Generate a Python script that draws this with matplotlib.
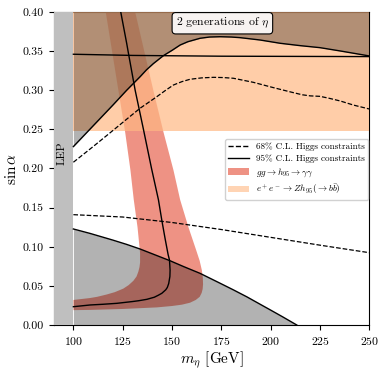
import matplotlib
matplotlib.use('Agg')
import matplotlib.pyplot as plt
import numpy as np
from matplotlib.lines import Line2D
from matplotlib.patches import Patch

plt.rcParams['font.family'] = 'serif'
plt.rcParams['font.serif'] = ['cmr10']
plt.rcParams['mathtext.fontset'] = 'cm'
plt.rcParams['axes.formatter.use_mathtext'] = True

# 95% upper boundary (excluded above)
m_up95 = [100, 110, 120, 127, 133.8, 137, 140.5, 143, 145.6, 150, 154.1, 158,
          164.2, 169, 174.4, 180, 184.5, 194.6, 204.8, 214.9, 225.0, 235.2, 250]
s_up95 = [0.228, 0.2545, 0.281, 0.300, 0.3173, 0.326, 0.334, 0.339, 0.3442,
          0.351, 0.3578, 0.362, 0.3664, 0.368, 0.3684, 0.368, 0.3672, 0.3642,
          0.360, 0.357, 0.3544, 0.3502, 0.3438]

# 68% upper curve
m_up68 = [100, 110, 120, 127, 133.8, 142.3, 146.5, 150.7, 155, 159.1, 165, 171,
          176, 181.1, 191.2, 201.4, 211.5, 216, 220, 225, 230, 235.2, 242, 250]
s_up68 = [0.208, 0.228, 0.2485, 0.263, 0.277, 0.2918, 0.2995, 0.3067, 0.311,
          0.314, 0.3158, 0.3165, 0.3162, 0.3153, 0.3101, 0.3033, 0.2969, 0.2942,
          0.2928, 0.2922, 0.2895, 0.2863, 0.281, 0.276]

# near-horizontal 95% line
m_flat95 = [100, 130, 175, 250]
s_flat95 = [0.346, 0.3445, 0.3435, 0.343]

# 68% lower curve
m_low68 = [100, 125, 150, 175, 200, 225, 250]
s_low68 = [0.141, 0.138, 0.131, 0.122, 0.112, 0.102, 0.0924]

# 95% lower boundary (excluded below)
m_low95 = [100, 108.5, 120, 127, 133.8, 141, 148.9, 156, 164.2, 174.4, 181,
           187.9, 195, 200, 206, 213.2]
s_low95 = [0.1227, 0.117, 0.1085, 0.103, 0.0971, 0.090, 0.0822, 0.0745, 0.066,
           0.0533, 0.045, 0.036, 0.026, 0.019, 0.0105, 0.0]

# 95% near-vertical contour
m_vert95 = [124, 127, 128.2, 131.3, 135.5, 139.6, 143.1, 144.8, 146.5, 148.0,
            148.7, 149.0, 148.9, 148.3, 147.6, 146.8, 144.8, 143, 141, 137.2,
            133, 130, 122, 115, 108.5, 100]
s_vert95 = [0.4, 0.36, 0.343, 0.30, 0.25, 0.20, 0.16, 0.134, 0.11, 0.09,
            0.083, 0.070, 0.062, 0.053, 0.048, 0.045, 0.0405, 0.038, 0.0355,
            0.0328, 0.031, 0.030, 0.0277, 0.0265, 0.0256, 0.0234]

# gg -> h95 -> gamma gamma band: outer (right/bottom) and inner (left/top) edges
m_gg_out = [131.3, 140.5, 145.6, 150.7, 154.1, 158.3, 162.2, 164, 165.1, 165.6,
            165.7, 165.5, 165, 164, 162, 159.1, 155, 150, 142.2, 125, 108.5, 100]
s_gg_out = [0.40, 0.30, 0.247, 0.198, 0.16, 0.125, 0.0958, 0.082, 0.070, 0.060,
            0.052, 0.046, 0.041, 0.036, 0.032, 0.0285, 0.026, 0.0243, 0.0225,
            0.0205, 0.0193, 0.019]
m_gg_in = [116.4, 122.8, 126.2, 128.9, 130.6, 132.5, 133.8, 133.8, 133.5, 132.9,
           132, 130.4, 128, 125.3, 121, 116.9, 112, 108.5, 100]
s_gg_in = [0.40, 0.30, 0.247, 0.198, 0.16, 0.125, 0.092, 0.08, 0.074, 0.068,
           0.062, 0.0565, 0.051, 0.0465, 0.042, 0.039, 0.036, 0.0345, 0.032]

# e+e- -> Z h95 (-> bb) band
m_ee = [100, 250]
s_ee_lo = 0.248
s_ee_hi = 0.40

c_gg = '#e34a33'
c_ee = '#ffb883'

fig = plt.figure(figsize=(3.86, 3.70), dpi=100)
ax = fig.add_axes([0.139, 0.1216, 0.818, 0.846])

ax.fill(m_gg_out + m_gg_in[::-1], s_gg_out + s_gg_in[::-1],
        color=c_gg, alpha=0.6, lw=0, zorder=2)
ax.fill_between(m_ee, s_ee_lo, s_ee_hi, color=c_ee, alpha=0.7, lw=0, zorder=3)
ax.fill_between(m_up95, s_up95, 0.4, color='black', alpha=0.3, lw=0, zorder=4)
ax.fill_between(m_low95, 0, s_low95, color='black', alpha=0.3, lw=0, zorder=4)
ax.axvspan(90, 100, color='#bfbfbf', lw=0, zorder=4.5)

ax.plot(m_up95, s_up95, 'k-', lw=1, zorder=5)
ax.plot(m_flat95, s_flat95, 'k-', lw=1, zorder=5)
ax.plot(m_low95, s_low95, 'k-', lw=1, zorder=5)
ax.plot(m_vert95, s_vert95, 'k-', lw=1, zorder=5)
ax.plot(m_up68, s_up68, 'k--', lw=0.9, zorder=5)
ax.plot(m_low68, s_low68, 'k--', lw=0.9, zorder=5)

ax.text(94.3, 0.22, 'LEP', rotation=90, ha='center', va='center', fontsize=8.5, zorder=6)
ax.text(175.5, 0.3856, r'2 generations of $\eta$', ha='center', va='center', fontsize=8.5,
        zorder=7, bbox=dict(boxstyle='round,pad=0.3', fc=(1, 1, 1, 0.9), ec='black', lw=0.8))

handles = [Line2D([], [], color='k', ls='--', lw=1),
           Line2D([], [], color='k', ls='-', lw=1),
           Patch(color=c_gg, alpha=0.6, lw=0),
           Patch(color=c_ee, alpha=0.6, lw=0)]
labels = ['68% C.L. Higgs constraints', '95% C.L. Higgs constraints',
          r'$gg \to h_{95} \to \gamma\gamma$', r'$e^+e^- \to Zh_{95}(\to b\bar{b})$']
leg = ax.legend(handles, labels, loc='upper right', bbox_to_anchor=(0.997, 0.594),
                borderaxespad=0, fontsize=6.6, handlelength=2.2, framealpha=0.9,
                labelspacing=0.35)
leg.set_zorder(8)

ax.set_xlim(90, 250)
ax.set_ylim(0, 0.4)
ax.set_xticks([100, 125, 150, 175, 200, 225, 250])
ax.set_yticks(np.arange(0, 0.41, 0.05))
ax.yaxis.set_major_formatter(matplotlib.ticker.FormatStrFormatter('%.2f'))
ax.tick_params(labelsize=8.5)
ax.set_xlabel(r'$m_\eta$ [GeV]', fontsize=11, labelpad=2)
ax.set_ylabel(r'$\sin\alpha$', fontsize=11, labelpad=3)

fig.savefig('out.png', dpi=100)
